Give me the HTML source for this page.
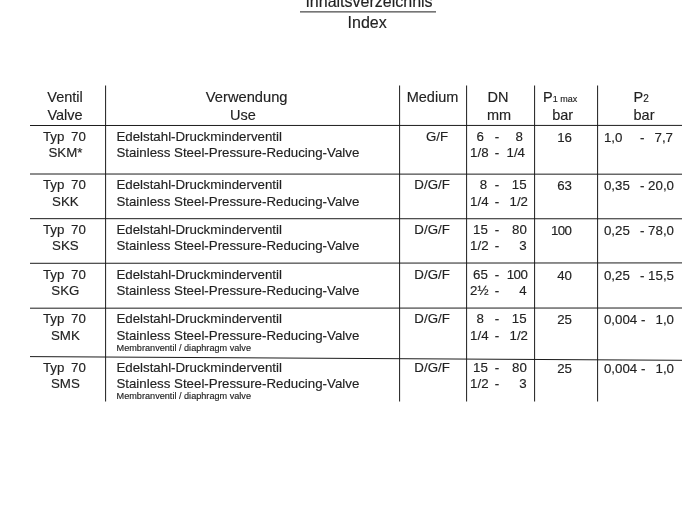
<!DOCTYPE html><html><head><meta charset="utf-8"><style>
html,body{margin:0;padding:0;background:#fff;}
body{width:697px;height:506px;position:relative;overflow:hidden;font-family:"Liberation Sans",sans-serif;color:#222;}
.t{position:absolute;white-space:pre;-webkit-text-stroke:0.15px #222;}
#w{position:absolute;left:0;top:0;width:697px;height:506px;will-change:transform;}
.c{transform:translateX(-50%);}
.r{transform:translateX(-100%);}
</style></head><body><div id="w">
<div class="t c" style="left:369px;top:-7px;font-size:16px;line-height:17px;">Inhaltsverzeichnis</div>
<div class="t c" style="left:367.2px;top:14px;font-size:16px;line-height:17px;">Index</div>
<div class="t c" style="left:65px;top:89px;font-size:14.5px;line-height:16px;">Ventil</div>
<div class="t c" style="left:65px;top:107px;font-size:14.5px;line-height:16px;">Valve</div>
<div class="t c" style="left:246.7px;top:89px;font-size:14.7px;line-height:16px;">Verwendung</div>
<div class="t c" style="left:243px;top:107px;font-size:14.5px;line-height:16px;">Use</div>
<div class="t c" style="left:432.5px;top:89px;font-size:14.5px;line-height:16px;">Medium</div>
<div class="t c" style="left:498px;top:89px;font-size:14.5px;line-height:16px;">DN</div>
<div class="t c" style="left:499px;top:107px;font-size:14.5px;line-height:16px;">mm</div>
<div class="t" style="left:543px;top:89px;font-size:14.5px;line-height:16px;">P<span style="font-size:9px">1 max</span></div>
<div class="t c" style="left:562.7px;top:107px;font-size:14.5px;line-height:16px;">bar</div>
<div class="t" style="left:633.5px;top:89px;font-size:14.5px;line-height:16px;">P<span style="font-size:10px">2</span></div>
<div class="t" style="left:633.5px;top:107px;font-size:14.5px;line-height:16px;">bar</div>
<div class="t c" style="left:64.4px;top:129px;font-size:13.3px;line-height:15px;word-spacing:-0.35px;">Typ  70</div>
<div class="t c" style="left:65.4px;top:145px;font-size:13.3px;line-height:15px;">SKM*</div>
<div class="t" style="left:116.4px;top:129px;font-size:13.3px;line-height:15px;">Edelstahl-Druckminderventil</div>
<div class="t" style="left:116.4px;top:145px;font-size:13.3px;line-height:15px;">Stainless Steel-Pressure-Reducing-Valve</div>
<div class="t r" style="left:448.2px;top:129px;font-size:13.3px;line-height:15px;">G/F</div>
<div class="t" style="left:476.5px;top:129px;font-size:13.3px;line-height:15px;">6</div>
<div class="t" style="left:494.8px;top:129px;font-size:13.3px;line-height:15px;">-</div>
<div class="t r" style="left:523px;top:129px;font-size:13.3px;line-height:15px;">8</div>
<div class="t" style="left:470.1px;top:145px;font-size:13.3px;line-height:15px;">1/8</div>
<div class="t" style="left:494.8px;top:145px;font-size:13.3px;line-height:15px;">-</div>
<div class="t r" style="left:525px;top:145px;font-size:13.3px;line-height:15px;">1/4</div>
<div class="t r" style="left:572.0px;top:130px;font-size:13.3px;line-height:15px;">16</div>
<div class="t" style="left:603.9px;top:130px;font-size:13.3px;line-height:15px;">1,0</div>
<div class="t" style="left:640.1px;top:130px;font-size:13.3px;line-height:15px;">-</div>
<div class="t r" style="left:673px;top:130px;font-size:13.3px;line-height:15px;">7,7</div>
<div class="t c" style="left:64.4px;top:177px;font-size:13.3px;line-height:15px;word-spacing:-0.35px;">Typ  70</div>
<div class="t c" style="left:65.4px;top:194px;font-size:13.3px;line-height:15px;">SKK</div>
<div class="t" style="left:116.4px;top:177px;font-size:13.3px;line-height:15px;">Edelstahl-Druckminderventil</div>
<div class="t" style="left:116.4px;top:194px;font-size:13.3px;line-height:15px;">Stainless Steel-Pressure-Reducing-Valve</div>
<div class="t r" style="left:449.8px;top:177px;font-size:13.3px;line-height:15px;">D/G/F</div>
<div class="t" style="left:479.8px;top:177px;font-size:13.3px;line-height:15px;">8</div>
<div class="t" style="left:494.8px;top:177px;font-size:13.3px;line-height:15px;">-</div>
<div class="t r" style="left:526.6px;top:177px;font-size:13.3px;line-height:15px;">15</div>
<div class="t" style="left:470.1px;top:194px;font-size:13.3px;line-height:15px;">1/4</div>
<div class="t" style="left:494.8px;top:194px;font-size:13.3px;line-height:15px;">-</div>
<div class="t r" style="left:528px;top:194px;font-size:13.3px;line-height:15px;">1/2</div>
<div class="t r" style="left:572.0px;top:178px;font-size:13.3px;line-height:15px;">63</div>
<div class="t" style="left:603.9px;top:178px;font-size:13.3px;line-height:15px;">0,35</div>
<div class="t" style="left:640.1px;top:178px;font-size:13.3px;line-height:15px;">-</div>
<div class="t r" style="left:674px;top:178px;font-size:13.3px;line-height:15px;">20,0</div>
<div class="t c" style="left:64.4px;top:222px;font-size:13.3px;line-height:15px;word-spacing:-0.35px;">Typ  70</div>
<div class="t c" style="left:65.4px;top:238px;font-size:13.3px;line-height:15px;">SKS</div>
<div class="t" style="left:116.4px;top:222px;font-size:13.3px;line-height:15px;">Edelstahl-Druckminderventil</div>
<div class="t" style="left:116.4px;top:238px;font-size:13.3px;line-height:15px;">Stainless Steel-Pressure-Reducing-Valve</div>
<div class="t r" style="left:449.8px;top:222px;font-size:13.3px;line-height:15px;">D/G/F</div>
<div class="t" style="left:473.0px;top:222px;font-size:13.3px;line-height:15px;">15</div>
<div class="t" style="left:494.8px;top:222px;font-size:13.3px;line-height:15px;">-</div>
<div class="t r" style="left:526.9px;top:222px;font-size:13.3px;line-height:15px;">80</div>
<div class="t" style="left:470.1px;top:238px;font-size:13.3px;line-height:15px;">1/2</div>
<div class="t" style="left:494.8px;top:238px;font-size:13.3px;line-height:15px;">-</div>
<div class="t r" style="left:526.6px;top:238px;font-size:13.3px;line-height:15px;">3</div>
<div class="t r" style="left:571.4px;top:223px;font-size:13.3px;line-height:15px;letter-spacing:-0.6px;">100</div>
<div class="t" style="left:603.9px;top:223px;font-size:13.3px;line-height:15px;">0,25</div>
<div class="t" style="left:640.1px;top:223px;font-size:13.3px;line-height:15px;">-</div>
<div class="t r" style="left:674px;top:223px;font-size:13.3px;line-height:15px;">78,0</div>
<div class="t c" style="left:64.4px;top:267px;font-size:13.3px;line-height:15px;word-spacing:-0.35px;">Typ  70</div>
<div class="t c" style="left:65.4px;top:283px;font-size:13.3px;line-height:15px;">SKG</div>
<div class="t" style="left:116.4px;top:267px;font-size:13.3px;line-height:15px;">Edelstahl-Druckminderventil</div>
<div class="t" style="left:116.4px;top:283px;font-size:13.3px;line-height:15px;">Stainless Steel-Pressure-Reducing-Valve</div>
<div class="t r" style="left:449.8px;top:267px;font-size:13.3px;line-height:15px;">D/G/F</div>
<div class="t" style="left:473.0px;top:267px;font-size:13.3px;line-height:15px;">65</div>
<div class="t" style="left:494.8px;top:267px;font-size:13.3px;line-height:15px;">-</div>
<div class="t r" style="left:527.2px;top:267px;font-size:13.3px;line-height:15px;letter-spacing:-0.6px;">100</div>
<div class="t" style="left:470.1px;top:283px;font-size:13.3px;line-height:15px;">2½</div>
<div class="t" style="left:494.8px;top:283px;font-size:13.3px;line-height:15px;">-</div>
<div class="t r" style="left:526.6px;top:283px;font-size:13.3px;line-height:15px;">4</div>
<div class="t r" style="left:572.0px;top:268px;font-size:13.3px;line-height:15px;">40</div>
<div class="t" style="left:603.9px;top:268px;font-size:13.3px;line-height:15px;">0,25</div>
<div class="t" style="left:640.1px;top:268px;font-size:13.3px;line-height:15px;">-</div>
<div class="t r" style="left:674px;top:268px;font-size:13.3px;line-height:15px;">15,5</div>
<div class="t c" style="left:64.4px;top:311px;font-size:13.3px;line-height:15px;word-spacing:-0.35px;">Typ  70</div>
<div class="t c" style="left:65.4px;top:328px;font-size:13.3px;line-height:15px;">SMK</div>
<div class="t" style="left:116.4px;top:311px;font-size:13.3px;line-height:15px;">Edelstahl-Druckminderventil</div>
<div class="t" style="left:116.4px;top:328px;font-size:13.3px;line-height:15px;">Stainless Steel-Pressure-Reducing-Valve</div>
<div class="t" style="left:116.6px;top:343px;font-size:9.15px;line-height:10px;">Membranventil / diaphragm valve</div>
<div class="t r" style="left:449.8px;top:311px;font-size:13.3px;line-height:15px;">D/G/F</div>
<div class="t" style="left:476.5px;top:311px;font-size:13.3px;line-height:15px;">8</div>
<div class="t" style="left:494.8px;top:311px;font-size:13.3px;line-height:15px;">-</div>
<div class="t r" style="left:526.6px;top:311px;font-size:13.3px;line-height:15px;">15</div>
<div class="t" style="left:470.1px;top:328px;font-size:13.3px;line-height:15px;">1/4</div>
<div class="t" style="left:494.8px;top:328px;font-size:13.3px;line-height:15px;">-</div>
<div class="t r" style="left:528px;top:328px;font-size:13.3px;line-height:15px;">1/2</div>
<div class="t r" style="left:572.0px;top:312px;font-size:13.3px;line-height:15px;">25</div>
<div class="t" style="left:603.9px;top:312px;font-size:13.3px;line-height:15px;">0,004</div>
<div class="t" style="left:641.0px;top:312px;font-size:13.3px;line-height:15px;">-</div>
<div class="t r" style="left:674px;top:312px;font-size:13.3px;line-height:15px;">1,0</div>
<div class="t c" style="left:64.4px;top:360px;font-size:13.3px;line-height:15px;word-spacing:-0.35px;">Typ  70</div>
<div class="t c" style="left:65.4px;top:376px;font-size:13.3px;line-height:15px;">SMS</div>
<div class="t" style="left:116.4px;top:360px;font-size:13.3px;line-height:15px;">Edelstahl-Druckminderventil</div>
<div class="t" style="left:116.4px;top:376px;font-size:13.3px;line-height:15px;">Stainless Steel-Pressure-Reducing-Valve</div>
<div class="t" style="left:116.6px;top:391px;font-size:9.15px;line-height:10px;">Membranventil / diaphragm valve</div>
<div class="t r" style="left:449.8px;top:360px;font-size:13.3px;line-height:15px;">D/G/F</div>
<div class="t" style="left:473.0px;top:360px;font-size:13.3px;line-height:15px;">15</div>
<div class="t" style="left:494.8px;top:360px;font-size:13.3px;line-height:15px;">-</div>
<div class="t r" style="left:526.9px;top:360px;font-size:13.3px;line-height:15px;">80</div>
<div class="t" style="left:470.1px;top:376px;font-size:13.3px;line-height:15px;">1/2</div>
<div class="t" style="left:494.8px;top:376px;font-size:13.3px;line-height:15px;">-</div>
<div class="t r" style="left:526.6px;top:376px;font-size:13.3px;line-height:15px;">3</div>
<div class="t r" style="left:572.0px;top:361px;font-size:13.3px;line-height:15px;">25</div>
<div class="t" style="left:603.9px;top:361px;font-size:13.3px;line-height:15px;">0,004</div>
<div class="t" style="left:641.0px;top:361px;font-size:13.3px;line-height:15px;">-</div>
<div class="t r" style="left:674px;top:361px;font-size:13.3px;line-height:15px;">1,0</div>
<svg width="697" height="506" style="position:absolute;left:0;top:0" stroke="#1c1c1c" stroke-width="1">
<line x1="300" y1="11.9" x2="436" y2="11.9"/>
<line x1="30" y1="125.5" x2="682" y2="125.4"/>
<line x1="30" y1="174.0" x2="682" y2="174.2"/>
<line x1="30" y1="218.66" x2="682" y2="218.8"/>
<line x1="30" y1="263.3" x2="682" y2="262.9"/>
<line x1="30" y1="308.2" x2="682" y2="308.0"/>
<line x1="30" y1="356.6" x2="682" y2="360.3"/>
<line x1="105.6" y1="85.5" x2="105.6" y2="401.5"/>
<line x1="399.6" y1="85.5" x2="399.6" y2="401.5"/>
<line x1="466.6" y1="85.5" x2="466.6" y2="401.5"/>
<line x1="534.6" y1="85.5" x2="534.6" y2="401.5"/>
<line x1="597.6" y1="85.5" x2="597.6" y2="401.5"/>
</svg>
</div></body></html>
